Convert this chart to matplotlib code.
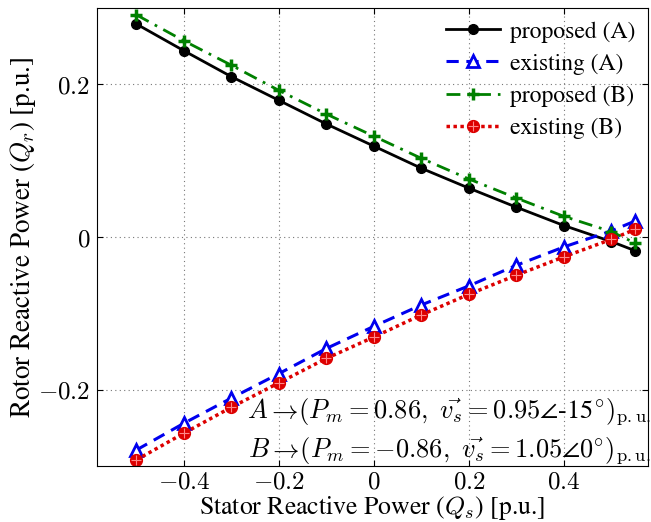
import matplotlib.pyplot as plt
import numpy as np

plt.rcParams['font.family'] = ['STIXGeneral', 'DejaVu Serif']
plt.rcParams['mathtext.fontset'] = 'cm'

qs = [-0.5, -0.4, -0.3, -0.2, -0.1, 0.0, 0.1, 0.2, 0.3, 0.4, 0.5, 0.55]
prop_a = [0.279, 0.244, 0.210, 0.179, 0.148, 0.119, 0.090, 0.064, 0.039, 0.015, -0.006, -0.018]
exist_a = [-0.279, -0.244, -0.211, -0.179, -0.146, -0.117, -0.089, -0.064, -0.037, -0.013, 0.008, 0.021]
prop_b = [0.291, 0.257, 0.225, 0.192, 0.161, 0.132, 0.103, 0.076, 0.051, 0.027, 0.007, -0.008]
exist_b = [-0.292, -0.257, -0.223, -0.191, -0.159, -0.131, -0.102, -0.075, -0.050, -0.026, -0.003, 0.010]

xticks = [-0.4, -0.2, 0, 0.2, 0.4]
yticks = [-0.2, 0, 0.2]


def fmt(v):
    if v == 0:
        return r'$0$'
    return r'$%.1f$' % v


fig = plt.figure(figsize=(6.51, 5.22), dpi=100)
ax = fig.add_axes([97 / 651, 56 / 522, 551 / 651, 458 / 522])

l1, = ax.plot(qs, prop_a, color='black', lw=2, marker='o', ms=7, label='proposed (A)')
l2, = ax.plot(qs, exist_a, color='#0000ee', lw=2.2, ls=(0, (4, 2.5)), marker='^', ms=8,
              mfc='white', mec='#0000ee', mew=2, label='existing (A)')
l3, = ax.plot(qs, prop_b, color='#008000', lw=2, ls=(0, (5, 2.5, 1, 2.5)), marker='+', ms=9,
              mew=2.5, label='proposed (B)')
l4, = ax.plot(qs, exist_b, color='#dd0000', lw=2.5, ls=(0, (1, 1)), marker='o', ms=8.5,
              mec='#dd0000', label='existing (B)')
l4b, = ax.plot(qs, exist_b, ls='none', marker='+', ms=7, mew=0.8, color='#ff8888')

ax.set_xlim(-0.583, 0.577)
ax.set_ylim(-0.3, 0.3)
ax.set_xticks(xticks)
ax.set_xticklabels([fmt(v) for v in xticks])
ax.set_yticks(yticks)
ax.set_yticklabels([fmt(v) for v in yticks])
ax.tick_params(direction='in', top=True, right=True, labelsize=18, length=4, pad=5)
ax.tick_params(axis='x', pad=3)
ax.grid(True, ls=(0, (1, 3)), color='#777777', lw=0.8)
for s in ax.spines.values():
    s.set_linewidth(0.8)

ax.set_xlabel(r'Stator Reactive Power ($Q_s$) [p.u.]', fontsize=18.5, labelpad=0)
ax.set_ylabel(r'Rotor Reactive Power ($Q_r$) [p.u.]', fontsize=19.5, labelpad=0)

ax.legend([l1, l2, l3, (l4, l4b)], ['proposed (A)', 'existing (A)', 'proposed (B)', 'existing (B)'],
          loc='upper right', frameon=False, fontsize=17, handlelength=2.3,
          borderaxespad=0.15, labelspacing=0.45, handletextpad=0.4)

ax.text(1.005, 0.118, r'$A \rightarrow\!(P_m=0.86,\ \vec{v_s}=0.95\angle$-15$^{\circ})_{\rm p.u.}$',
        transform=ax.transAxes, ha='right', va='center', fontsize=19)
ax.text(1.005, 0.031, r'$B \rightarrow\!(P_m=-0.86,\ \vec{v_s}=1.05\angle 0^{\circ})_{\rm p.u.}$',
        transform=ax.transAxes, ha='right', va='center', fontsize=19)

fig.savefig('out.png', dpi=100)
